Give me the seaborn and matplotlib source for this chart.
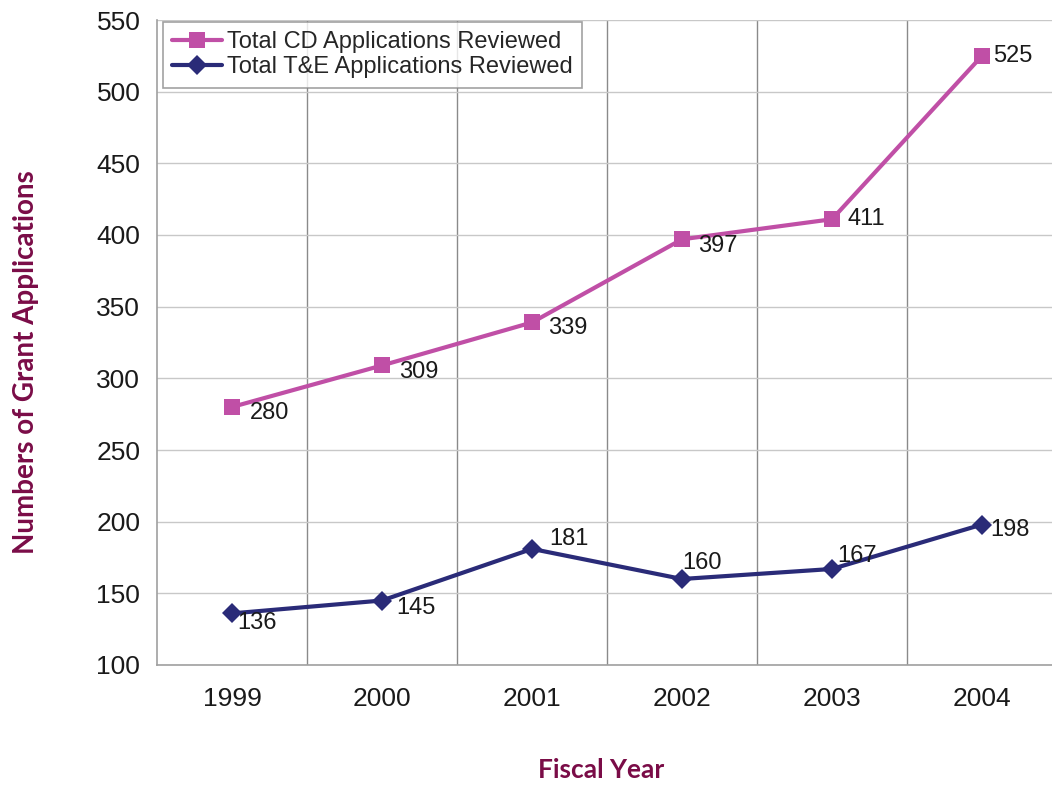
import matplotlib
matplotlib.use("Agg")
import matplotlib.pyplot as plt
import seaborn as sns
import pandas as pd

years = ["1999", "2000", "2001", "2002", "2003", "2004"]
cd_reviewed = [280, 309, 339, 397, 411, 525]
te_reviewed = [136, 145, 181, 160, 167, 198]
cd_name = "Total CD Applications Reviewed"
te_name = "Total T&E Applications Reviewed"

# label offsets in pixels (dx, dy) for each point
cd_offsets = [(18, -6), (17, -7), (16, -6), (16, -7), (15, 0), (11, 0)]
te_offsets = [(5, -10), (14, -7), (17, 10), (0, 16), (5, 13), (8, -5)]

sns.set_theme(style="white")
plt.rcParams["font.family"] = ["Liberation Sans", "DejaVu Sans"]

fig = plt.figure(figsize=(10.52, 7.85), dpi=100)
ax = fig.add_axes([157 / 1052, 1 - 665 / 785, 900 / 1052, 645 / 785])

pos = list(range(len(years)))
df = pd.DataFrame({
    "pos": pos * 2,
    "value": cd_reviewed + te_reviewed,
    "series": [cd_name] * len(years) + [te_name] * len(years),
})

cd_color = "#C04FA6"
te_color = "#2A2B78"

sns.lineplot(data=df[df.series == cd_name], x="pos", y="value", ax=ax,
             color=cd_color, lw=3, marker="s", markersize=12,
             markeredgewidth=0, label=cd_name, zorder=5)
sns.lineplot(data=df[df.series == te_name], x="pos", y="value", ax=ax,
             color=te_color, lw=3, marker="D", markersize=10.5,
             markeredgewidth=0, label=te_name, zorder=5)

for vals, offs in ((cd_reviewed, cd_offsets), (te_reviewed, te_offsets)):
    for x, v, (dx, dy) in zip(pos, vals, offs):
        ax.annotate(str(v), (x, v), xytext=(dx, dy), textcoords="offset pixels",
                    ha="left", va="center", fontsize=17, color="#1a1a1a", zorder=6)

ax.set_xlim(-0.5, 5.5)
ax.set_ylim(100, 550)
ax.set_yticks(range(100, 551, 50))
ax.set_xticks(pos)
ax.set_xticklabels(years)
ax.set_xticks([p + 0.5 for p in pos[:-1]], minor=True)
ax.tick_params(axis="x", which="both", length=0, labelsize=19, pad=16, colors="#1a1a1a")
ax.tick_params(axis="y", length=3, width=0.8, color="#999999", labelsize=19,
               pad=9, colors="#1a1a1a")
ax.yaxis.grid(True, color="#c8c8c8", lw=1)
ax.xaxis.grid(True, which="minor", color="#8a8a8a", lw=1)
ax.xaxis.grid(False, which="major")
for side in ("left", "bottom"):
    ax.spines[side].set_color("#a0a0a0")
    ax.spines[side].set_linewidth(1.2)
for side in ("top", "right"):
    ax.spines[side].set_visible(False)

label_color = "#7A0C47"
ax.set_xlabel("Fiscal Year", fontsize=19, color=label_color, fontweight="bold",
              family=["Lato", "DejaVu Sans"])
ax.xaxis.set_label_coords(0.494, (665 - 758) / 645)
ax.set_ylabel("Numbers of Grant Applications", fontsize=20, color=label_color,
              fontweight="bold", family=["Lato", "DejaVu Sans"])
ax.yaxis.set_label_coords((39 - 157) / 900, 0.47)

leg = ax.legend(loc="upper left", bbox_to_anchor=(6 / 900, 643 / 645), fontsize=17,
                frameon=True, fancybox=False, edgecolor="#8a8a8a",
                borderpad=0.4, handlelength=2.1, handletextpad=0.2,
                labelspacing=0.12, borderaxespad=0)
leg.get_frame().set_linewidth(1.2)

fig.savefig("out.png", dpi=100)
